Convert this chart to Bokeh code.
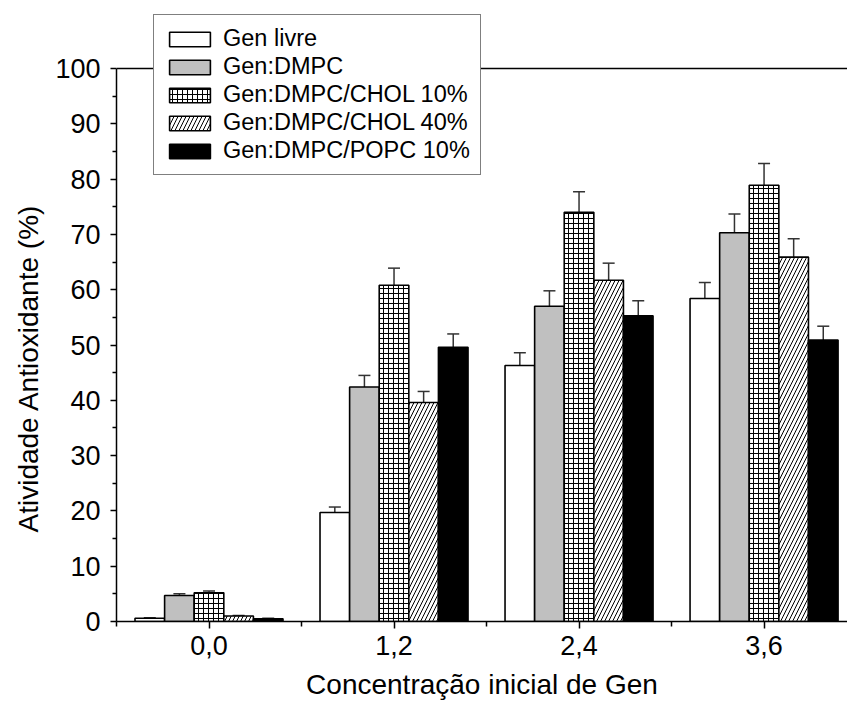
from bokeh.plotting import figure
from bokeh.models import (ColumnDataSource, FixedTicker, Span, Whisker, TeeHead,
                          Legend, LegendItem, Title)
from bokeh.embed import file_html
from bokeh.resources import INLINE

# Initial Gen concentration groups
conc_labels = ["0,0", "1,2", "2,4", "3,6"]

series_names = ["Gen livre", "Gen:DMPC", "Gen:DMPC/CHOL 10%",
                "Gen:DMPC/CHOL 40%", "Gen:DMPC/POPC 10%"]

# Antioxidant activity (%) and standard deviation per formulation
gen_livre = [0.6, 19.7, 46.3, 58.4]
gen_livre_err = [0.1, 1.0, 2.3, 2.9]

gen_dmpc = [4.7, 42.4, 57.0, 70.3]
gen_dmpc_err = [0.3, 2.1, 2.8, 3.4]

gen_chol10 = [5.2, 60.8, 74.0, 78.9]
gen_chol10_err = [0.3, 3.1, 3.7, 3.9]

gen_chol40 = [1.0, 39.6, 61.7, 65.9]
gen_chol40_err = [0.1, 2.0, 3.1, 3.3]

gen_popc10 = [0.5, 49.6, 55.3, 50.9]
gen_popc10_err = [0.1, 2.4, 2.7, 2.5]

values = [gen_livre, gen_dmpc, gen_chol10, gen_chol40, gen_popc10]
errors = [gen_livre_err, gen_dmpc_err, gen_chol10_err, gen_chol40_err, gen_popc10_err]

# fill style for each formulation: (fill colour, hatch pattern, hatch scale)
styles = [
    ("white", None, 6),
    ("#c0c0c0", None, 6),
    ("white", "cross", 5),
    ("white", "right_diagonal_line", 8),
    ("black", None, 6),
]

FONT = "Liberation Sans"
bar_w = 0.16

# the frame reaches above 100 % so the legend box can sit over the top line
p = figure(width=847, height=708, output_backend="svg", toolbar_location=None,
           x_range=(-0.5, 3.451), y_range=(0, 110.49),
           min_border_left=116, min_border_right=0,
           min_border_top=10, min_border_bottom=87)
p.background_fill_color = "white"
p.border_fill_color = "white"
p.outline_line_color = None
p.xgrid.visible = False
p.ygrid.visible = False

legend_items = []
for k, (name, vals, errs, (fill, hatch, hscale)) in enumerate(
        zip(series_names, values, errors, styles)):
    xs = [i + (k - 2) * bar_w for i in range(len(conc_labels))]
    src = ColumnDataSource(dict(
        x=xs, top=vals,
        lower=[v - e for v, e in zip(vals, errs)],
        upper=[v + e for v, e in zip(vals, errs)],
    ))
    kw = {}
    if hatch:
        kw = dict(hatch_pattern=hatch, hatch_color="black",
                  hatch_weight=1.0, hatch_scale=hscale)
    r = p.vbar(x="x", top="top", width=bar_w, bottom=0, source=src,
               fill_color=fill, line_color="black", line_width=1.6, **kw)
    legend_items.append(LegendItem(label=name, renderers=[r]))

    wcol = "#333333"
    p.add_layout(Whisker(
        source=src, base="x", lower="lower", upper="upper",
        line_color=wcol, line_width=1.5,
        upper_head=TeeHead(size=12, line_color=wcol, line_width=1.5),
        lower_head=TeeHead(size=12, line_color=wcol, line_width=1.5),
    ))

# top frame line at 100 %
p.add_layout(Span(location=100, dimension="width", line_color="black",
                  line_width=1.5))

# x axis: one major tick per concentration, minor ticks between groups
xa = p.xaxis[0]
xa.ticker = FixedTicker(ticks=[0, 1, 2, 3],
                        minor_ticks=[-0.5, 0.5, 1.5, 2.5, 3.5])
xa.major_label_overrides = {i: lab for i, lab in enumerate(conc_labels)}
xa.axis_label = "Concentração inicial de Gen"

ya = p.yaxis[0]
ya.ticker = FixedTicker(ticks=list(range(0, 101, 10)),
                        minor_ticks=list(range(5, 100, 10)))
ya.bounds = (0, 100)

for ax in (xa, ya):
    ax.axis_line_color = "black"
    ax.axis_line_width = 1.5
    ax.major_tick_line_color = "black"
    ax.major_tick_line_width = 1.5
    ax.minor_tick_line_color = "black"
    ax.minor_tick_line_width = 1.5
    ax.major_tick_in = 0
    ax.minor_tick_in = 0
    ax.major_label_text_font = FONT
    ax.major_label_text_font_size = "27px"
    ax.major_label_text_color = "black"
    ax.axis_label_text_font = FONT
    ax.axis_label_text_font_size = "28px"
    ax.axis_label_text_font_style = "normal"
    ax.axis_label_text_color = "black"

xa.major_tick_out = 7
xa.minor_tick_out = 5
xa.major_label_standoff = 7
xa.axis_label_standoff = 11
ya.major_tick_out = 6
ya.minor_tick_out = 4
ya.major_label_standoff = 10

# y title, placed along the 0-100 span of the axis rather than the whole frame
ytitle = Title(text="Atividade Antioxidante (%)", align="left", offset=89,
               text_font=FONT, text_font_size="28px", text_font_style="normal",
               text_color="black", standoff=18)
p.add_layout(ytitle, "left")

legend = Legend(items=legend_items, location=(37, 446))
legend.label_text_font = FONT
legend.label_text_font_size = "23.5px"
legend.label_text_color = "black"
legend.glyph_width = 51
legend.glyph_height = 18
legend.label_standoff = 8
legend.label_height = 18
legend.spacing = 1
legend.padding = 10
legend.margin = 0
legend.border_line_color = "black"
legend.border_line_width = 1.5
legend.background_fill_color = "white"
legend.background_fill_alpha = 1.0
p.add_layout(legend)

open("out.html", "w").write(file_html(p, INLINE))
